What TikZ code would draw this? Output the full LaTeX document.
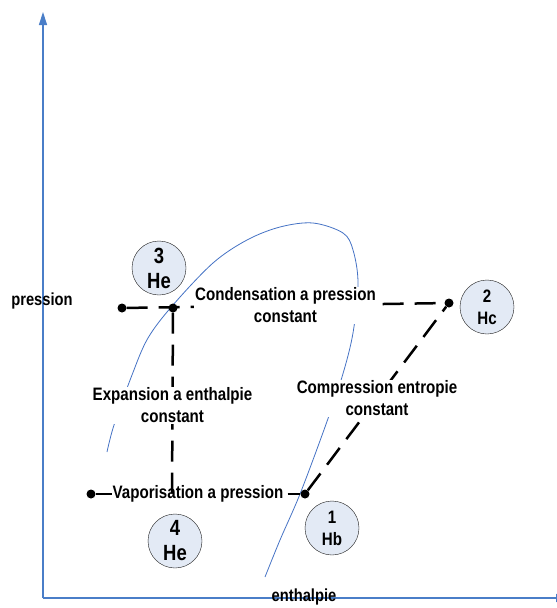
\documentclass[tikz,border=0pt]{standalone}
\usepackage{fontspec}
\usepackage{tikz}
\usetikzlibrary{arrows.meta,positioning}
\newfontfamily\narrowsans{Liberation Sans}[FakeStretch=0.84]
\definecolor{axisblue}{HTML}{4A7EC8}
\definecolor{curveblue}{HTML}{4472C4}
\definecolor{statefill}{HTML}{E3EAF5}
\definecolor{ink}{HTML}{1A1A1A}
\tikzset{
  state/.style={circle, draw=ink, fill=statefill, minimum size=54pt, inner sep=0pt,
                align=center, font=\narrowsans\bfseries\fontsize{18}{22}\selectfont},
  bigstate/.style={state, font=\narrowsans\bfseries\fontsize{22}{25}\selectfont},
  dot/.style={circle, fill=black, inner sep=0pt, minimum size=9pt},
  cyc/.style={draw=black, line width=2.5pt, dash pattern=on 21pt off 11pt},
  axis/.style={draw=axisblue, line width=1.4pt, -{Triangle[length=13pt,width=8pt]}},
  lbl/.style={font=\narrowsans\bfseries\fontsize{18}{22}\selectfont, align=center,
              fill=white, inner sep=1pt},
  axlbl/.style={font=\narrowsans\bfseries\fontsize{17.5}{20}\selectfont, inner sep=0pt}
}
\begin{document}
\begin{tikzpicture}[x=1pt,y=-1pt]
  \useasboundingbox (0,0) rectangle (557,608);
  \clip (0,0) rectangle (557,608);

  % axes
  \coordinate (o) at (43,598);
  \coordinate (ytip) at (43,12);
  \coordinate (xtip) at (569,598);
  \draw[axis] (o) -- (ytip);
  \draw[axis] (o) -- (xtip);
  \node[axlbl] (plabel) at (42,301) {pression};
  \node[axlbl] (hlabel) at (304,597) {enthalpie};

  % saturation curve
  \draw[curveblue, line width=0.8pt] plot[smooth, tension=0.55] coordinates {
    (107,452) (114,425) (132,375) (148,338) (173,305) (213,263) (247,240)
    (280,227) (313,223) (343,233) (353,250) (358,283) (353,333) (342,377)
    (325,427) (300,494) (280,540) (265,577)};

  % cycle points
  \node[dot] (p3l) at (122,308) {};
  \node[dot] (p3) at (173,308) {};
  \node[dot] (p2) at (449,303) {};
  \node[dot] (p1) at (305,494) {};
  \node[dot] (p4l) at (91,494) {};
  \coordinate (p4) at (172,498);

  \draw[cyc] (p4l) -- node[lbl]{Vaporisation a pression} (p1);
  \draw[cyc] (p3l) -- node[lbl]{Condensation a pression\\constant} (p2);
  \draw[cyc] (p1) -- node[lbl]{Compression entropie\\constant} (p2);
  \draw[cyc] (p3) -- node[lbl]{Expansion a enthalpie\\constant} (p4);

  % state bubbles
  \node[bigstate] (s3) at (159,268) {3\\He};
  \node[state] (s2) at (487,307) {2\\Hc};
  \node[bigstate] (s4) at (175,541) {4\\He};
  \node[state] (s1) at (332,528) {1\\Hb};
\end{tikzpicture}
\end{document}
